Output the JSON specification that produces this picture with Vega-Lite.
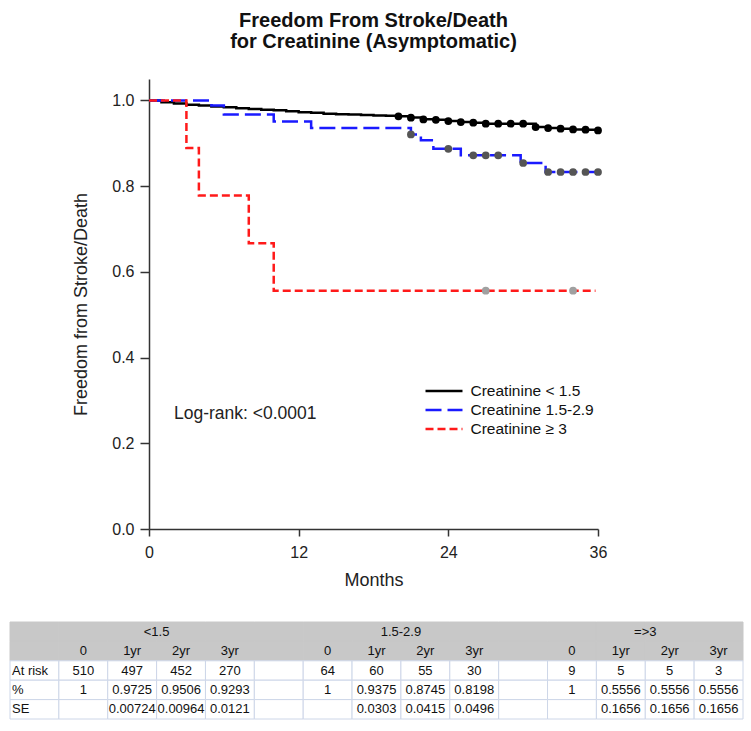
{
  "$schema": "https://vega.github.io/schema/vega-lite/v6.json",
  "padding": {"left": 9, "top": 11, "right": 5, "bottom": 5},
  "background": "white",
  "spacing": 32,
  "config": {"view": {"stroke": null}, "font": "Liberation Sans"},
  "datasets": {
    "curves": [
      {"group": "Creatinine < 1.5", "month": 0, "surv": 1.0},
      {"group": "Creatinine < 1.5", "month": 1, "surv": 0.996},
      {"group": "Creatinine < 1.5", "month": 2, "surv": 0.993},
      {"group": "Creatinine < 1.5", "month": 3, "surv": 0.99},
      {"group": "Creatinine < 1.5", "month": 4, "surv": 0.988},
      {"group": "Creatinine < 1.5", "month": 5, "surv": 0.986},
      {"group": "Creatinine < 1.5", "month": 6, "surv": 0.984},
      {"group": "Creatinine < 1.5", "month": 7, "surv": 0.982},
      {"group": "Creatinine < 1.5", "month": 8, "surv": 0.98},
      {"group": "Creatinine < 1.5", "month": 9, "surv": 0.978},
      {"group": "Creatinine < 1.5", "month": 10, "surv": 0.977},
      {"group": "Creatinine < 1.5", "month": 11, "surv": 0.975},
      {"group": "Creatinine < 1.5", "month": 12, "surv": 0.9725},
      {"group": "Creatinine < 1.5", "month": 13, "surv": 0.971},
      {"group": "Creatinine < 1.5", "month": 14, "surv": 0.969},
      {"group": "Creatinine < 1.5", "month": 15, "surv": 0.968},
      {"group": "Creatinine < 1.5", "month": 16, "surv": 0.967},
      {"group": "Creatinine < 1.5", "month": 17, "surv": 0.966},
      {"group": "Creatinine < 1.5", "month": 18, "surv": 0.965},
      {"group": "Creatinine < 1.5", "month": 19, "surv": 0.964},
      {"group": "Creatinine < 1.5", "month": 20, "surv": 0.963},
      {"group": "Creatinine < 1.5", "month": 21, "surv": 0.96},
      {"group": "Creatinine < 1.5", "month": 22, "surv": 0.956},
      {"group": "Creatinine < 1.5", "month": 23, "surv": 0.955},
      {"group": "Creatinine < 1.5", "month": 24, "surv": 0.952},
      {"group": "Creatinine < 1.5", "month": 25, "surv": 0.9495},
      {"group": "Creatinine < 1.5", "month": 26, "surv": 0.948},
      {"group": "Creatinine < 1.5", "month": 27, "surv": 0.9456},
      {"group": "Creatinine < 1.5", "month": 31, "surv": 0.938},
      {"group": "Creatinine < 1.5", "month": 32, "surv": 0.9355},
      {"group": "Creatinine < 1.5", "month": 33, "surv": 0.934},
      {"group": "Creatinine < 1.5", "month": 34, "surv": 0.9324},
      {"group": "Creatinine < 1.5", "month": 35, "surv": 0.9316},
      {"group": "Creatinine < 1.5", "month": 36, "surv": 0.93},
      {"group": "Creatinine 1.5-2.9", "month": 0, "surv": 1.0},
      {"group": "Creatinine 1.5-2.9", "month": 5, "surv": 0.988},
      {"group": "Creatinine 1.5-2.9", "month": 6, "surv": 0.967},
      {"group": "Creatinine 1.5-2.9", "month": 10, "surv": 0.951},
      {"group": "Creatinine 1.5-2.9", "month": 13, "surv": 0.9355},
      {"group": "Creatinine 1.5-2.9", "month": 21, "surv": 0.9207},
      {"group": "Creatinine 1.5-2.9", "month": 21.8, "surv": 0.9068},
      {"group": "Creatinine 1.5-2.9", "month": 22.8, "surv": 0.887},
      {"group": "Creatinine 1.5-2.9", "month": 25, "surv": 0.8718},
      {"group": "Creatinine 1.5-2.9", "month": 29.8, "surv": 0.854},
      {"group": "Creatinine 1.5-2.9", "month": 31.8, "surv": 0.833},
      {"group": "Creatinine 1.5-2.9", "month": 36, "surv": 0.833},
      {"group": "Creatinine ≥ 3", "month": 0, "surv": 1.0},
      {"group": "Creatinine ≥ 3", "month": 3, "surv": 0.889},
      {"group": "Creatinine ≥ 3", "month": 4, "surv": 0.778},
      {"group": "Creatinine ≥ 3", "month": 8, "surv": 0.667},
      {"group": "Creatinine ≥ 3", "month": 10, "surv": 0.556},
      {"group": "Creatinine ≥ 3", "month": 35.8, "surv": 0.556}
    ],
    "censors": [
      {"group": "Creatinine < 1.5", "month": 20, "surv": 0.963},
      {"group": "Creatinine < 1.5", "month": 21, "surv": 0.9596},
      {"group": "Creatinine < 1.5", "month": 22, "surv": 0.9557},
      {"group": "Creatinine < 1.5", "month": 23, "surv": 0.9549},
      {"group": "Creatinine < 1.5", "month": 24, "surv": 0.9518},
      {"group": "Creatinine < 1.5", "month": 25, "surv": 0.9495},
      {"group": "Creatinine < 1.5", "month": 26, "surv": 0.948},
      {"group": "Creatinine < 1.5", "month": 27, "surv": 0.9456},
      {"group": "Creatinine < 1.5", "month": 28, "surv": 0.9456},
      {"group": "Creatinine < 1.5", "month": 29, "surv": 0.9456},
      {"group": "Creatinine < 1.5", "month": 30, "surv": 0.9456},
      {"group": "Creatinine < 1.5", "month": 31, "surv": 0.9378},
      {"group": "Creatinine < 1.5", "month": 32, "surv": 0.9355},
      {"group": "Creatinine < 1.5", "month": 33, "surv": 0.934},
      {"group": "Creatinine < 1.5", "month": 34, "surv": 0.9324},
      {"group": "Creatinine < 1.5", "month": 35, "surv": 0.9316},
      {"group": "Creatinine < 1.5", "month": 36, "surv": 0.93},
      {"group": "Creatinine 1.5-2.9", "month": 21, "surv": 0.9207},
      {"group": "Creatinine 1.5-2.9", "month": 24, "surv": 0.887},
      {"group": "Creatinine 1.5-2.9", "month": 26, "surv": 0.8718},
      {"group": "Creatinine 1.5-2.9", "month": 27, "surv": 0.8718},
      {"group": "Creatinine 1.5-2.9", "month": 28, "surv": 0.8718},
      {"group": "Creatinine 1.5-2.9", "month": 30, "surv": 0.854},
      {"group": "Creatinine 1.5-2.9", "month": 32, "surv": 0.833},
      {"group": "Creatinine 1.5-2.9", "month": 33, "surv": 0.833},
      {"group": "Creatinine 1.5-2.9", "month": 34, "surv": 0.833},
      {"group": "Creatinine 1.5-2.9", "month": 35, "surv": 0.833},
      {"group": "Creatinine 1.5-2.9", "month": 36, "surv": 0.833},
      {"group": "Creatinine ≥ 3", "month": 27, "surv": 0.556},
      {"group": "Creatinine ≥ 3", "month": 34, "surv": 0.556}
    ],
    "notes": [
      {"month": 2.0, "surv": 0.268, "label": "Log-rank: <0.0001"}
    ],
    "table": [
      {"row": "h1", "lab": "", "a0": "", "a1": "", "a2": "<1.5", "a3": "", "s1": "", "b0": "", "b1": "", "b2": "1.5-2.9", "b3": "", "s2": "", "c0": "", "c1": "", "c2": "=>3", "c3": ""},
      {"row": "h2", "lab": "", "a0": "0", "a1": "1yr", "a2": "2yr", "a3": "3yr", "s1": "", "b0": "0", "b1": "1yr", "b2": "2yr", "b3": "3yr", "s2": "", "c0": "0", "c1": "1yr", "c2": "2yr", "c3": "3yr"},
      {"row": "At risk", "lab": "At risk", "a0": "510", "a1": "497", "a2": "452", "a3": "270", "s1": "", "b0": "64", "b1": "60", "b2": "55", "b3": "30", "s2": "", "c0": "9", "c1": "5", "c2": "5", "c3": "3"},
      {"row": "%", "lab": "%", "a0": "1", "a1": "0.9725", "a2": "0.9506", "a3": "0.9293", "s1": "", "b0": "1", "b1": "0.9375", "b2": "0.8745", "b3": "0.8198", "s2": "", "c0": "1", "c1": "0.5556", "c2": "0.5556", "c3": "0.5556"},
      {"row": "SE", "lab": "SE", "a0": "", "a1": "0.00724", "a2": "0.00964", "a3": "0.0121", "s1": "", "b0": "", "b1": "0.0303", "b2": "0.0415", "b3": "0.0496", "s2": "", "c0": "", "c1": "0.1656", "c2": "0.1656", "c3": "0.1656"}
    ]
  },
  "vconcat": [
    {
      "width": 449,
      "height": 450,
      "title": {
        "text": ["Freedom From Stroke/Death", "for Creatinine (Asymptomatic)"],
        "fontSize": 20,
        "fontWeight": "bold",
        "font": "Liberation Sans",
        "color": "#111111",
        "anchor": "middle",
        "offset": 27,
        "lineHeight": 21
      },
      "layer": [
        {
          "data": {"name": "curves"},
          "mark": {"type": "line", "interpolate": "step-after", "strokeWidth": 2.5},
          "encoding": {
            "x": {
              "field": "month", "type": "quantitative",
              "scale": {"domain": [0, 36], "nice": false},
              "title": "Months",
              "axis": {"values": [0, 12, 24, 36], "grid": false, "tickSize": 7, "labelPadding": 8, "titlePadding": 11,
                "labelFontSize": 16, "titleFontSize": 18, "titleFontWeight": "normal", "labelFlush": false,
                "domainColor": "#333333", "tickColor": "#333333", "domainWidth": 1.5, "tickWidth": 1.5,
                "labelColor": "#222222", "titleColor": "#222222"}
            },
            "y": {
              "field": "surv", "type": "quantitative",
              "scale": {"domain": [0, 1.05], "nice": false},
              "title": "Freedom from Stroke/Death",
              "axis": {"values": [0, 0.2, 0.4, 0.6, 0.8, 1.0], "format": ".1f", "grid": false, "tickSize": 9, "labelPadding": 6, "titlePadding": 21,
                "labelFontSize": 16, "titleFontSize": 18, "titleFontWeight": "normal", "labelFlush": false,
                "domainColor": "#333333", "tickColor": "#333333", "domainWidth": 1.5, "tickWidth": 1.5,
                "labelColor": "#222222", "titleColor": "#222222"}
            },
            "color": {
              "field": "group", "type": "nominal",
              "scale": {"domain": ["Creatinine < 1.5", "Creatinine 1.5-2.9", "Creatinine ≥ 3"], "range": ["#000000", "#1a1aff", "#ff1a1a"]},
              "legend": {"orient": "none", "legendX": 284.5, "legendY": 301.5, "title": null, "labelFontSize": 15.5, "labelColor": "#111111",
                "labelOffset": 16, "symbolType": "M-2,0H2", "symbolSize": 342, "symbolStrokeWidth": 2.5, "rowPadding": -2}
            },
            "strokeDash": {
              "field": "group", "type": "nominal",
              "scale": {"domain": ["Creatinine < 1.5", "Creatinine 1.5-2.9", "Creatinine ≥ 3"], "range": [[1, 0], [16, 6], [8, 4]]},
              "legend": {"orient": "none", "legendX": 284.5, "legendY": 301.5, "title": null, "labelFontSize": 15.5, "labelColor": "#111111",
                "labelOffset": 16, "symbolType": "M-2,0H2", "symbolSize": 342, "symbolStrokeWidth": 2.5, "rowPadding": -2}
            }
          }
        },
        {
          "data": {"name": "censors"},
          "mark": {"type": "point", "filled": true, "size": 60, "opacity": 1, "shape": "circle"},
          "encoding": {
            "x": {"field": "month", "type": "quantitative"},
            "y": {"field": "surv", "type": "quantitative"},
            "fill": {
              "field": "group", "type": "nominal",
              "scale": {"domain": ["Creatinine < 1.5", "Creatinine 1.5-2.9", "Creatinine ≥ 3"], "range": ["#000000", "#555555", "#a0a0a0"]},
              "legend": null
            }
          }
        },
        {
          "data": {"name": "notes"},
          "mark": {"type": "text", "align": "left", "baseline": "middle", "fontSize": 17.5, "color": "#222222"},
          "encoding": {
            "x": {"field": "month", "type": "quantitative"},
            "y": {"field": "surv", "type": "quantitative"},
            "text": {"field": "label"}
          }
        }
      ]
    },
    {
      "width": 449,
      "height": 97,
      "data": {"name": "table"},
      "transform": [
        {"fold": ["lab", "a0", "a1", "a2", "a3", "s1", "b0", "b1", "b2", "b3", "s2", "c0", "c1", "c2", "c3"], "as": ["col", "text"]}
      ],
      "encoding": {
        "x": {
          "field": "col", "type": "nominal",
          "scale": {"domain": ["lab", "a0", "a1", "a2", "a3", "s1", "b0", "b1", "b2", "b3", "s2", "c0", "c1", "c2", "c3"], "range": [-139, 594], "paddingInner": 0, "paddingOuter": 0},
          "axis": null
        },
        "y": {
          "field": "row", "type": "nominal",
          "scale": {"domain": ["h1", "h2", "At risk", "%", "SE"], "paddingInner": 0, "paddingOuter": 0},
          "axis": null
        }
      },
      "layer": [
        {
          "mark": {"type": "rect", "strokeWidth": 1},
          "encoding": {
            "fill": {"condition": {"test": "datum.row === 'h1' || datum.row === 'h2'", "value": "#c8c8c8"}, "value": "#ffffff"},
            "stroke": {"condition": {"test": "datum.row === 'h1' || datum.row === 'h2'", "value": "#c8c8c8"}, "value": "#cdd6e8"}
          }
        },
        {
          "transform": [{"filter": "datum.col !== 'lab' && datum.row !== 'h1'"}],
          "mark": {"type": "text", "baseline": "middle", "align": "center", "fontSize": 13, "font": "Liberation Sans", "color": "#111111"},
          "encoding": {"text": {"field": "text"}}
        },
        {
          "transform": [{"filter": "datum.row === 'h1'"}],
          "mark": {"type": "text", "baseline": "middle", "align": "center", "fontSize": 13, "font": "Liberation Sans", "color": "#111111"},
          "encoding": {
            "x": {"field": "col", "type": "nominal", "bandPosition": 0},
            "text": {"field": "text"}
          }
        },
        {
          "transform": [{"filter": "datum.col === 'lab'"}],
          "mark": {"type": "text", "baseline": "middle", "align": "left", "dx": 2, "fontSize": 13, "font": "Liberation Sans", "color": "#111111"},
          "encoding": {
            "x": {"field": "col", "type": "nominal", "bandPosition": 0},
            "text": {"field": "text"}
          }
        }
      ]
    }
  ]
}
